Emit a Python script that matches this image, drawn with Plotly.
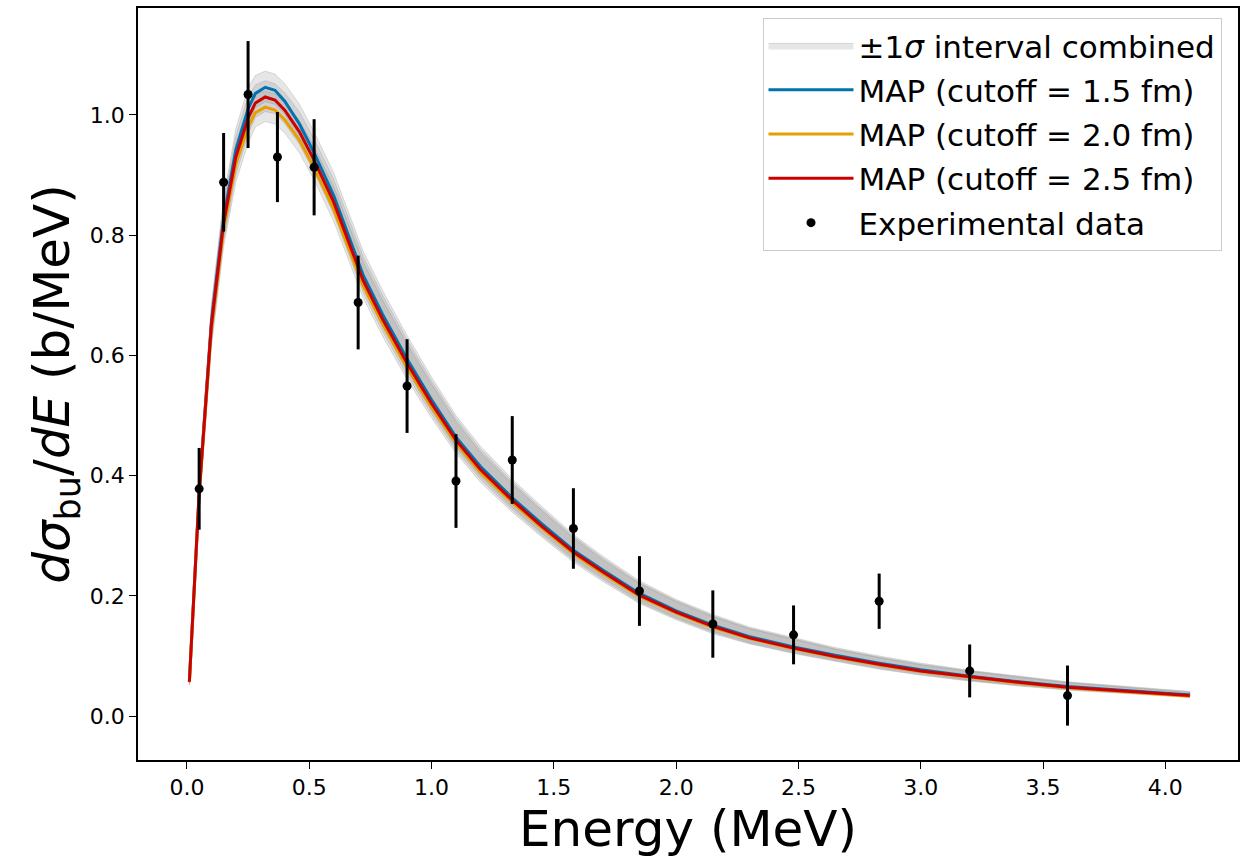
import plotly.graph_objects as go

# ---------------- data ----------------
energy = [0.01, 0.05, 0.10, 0.15, 0.20, 0.25, 0.28, 0.32, 0.36, 0.40, 0.46, 0.52, 0.60, 0.72,
          0.80, 0.90, 1.00, 1.10, 1.20, 1.33, 1.45, 1.58, 1.70, 1.85, 2.00, 2.15, 2.30, 2.48,
          2.65, 2.83, 3.00, 3.20, 3.40, 3.60, 3.85, 4.10]

map_15 = [0.057, 0.372, 0.655, 0.828, 0.942, 1.010, 1.036, 1.046, 1.041, 1.023, 0.985, 0.937,
          0.866, 0.734, 0.668, 0.594, 0.526, 0.464, 0.415, 0.363, 0.320, 0.276, 0.243, 0.204,
          0.175, 0.151, 0.132, 0.115, 0.101, 0.088, 0.077, 0.066, 0.057, 0.049, 0.042, 0.035]

map_20 = [0.056, 0.367, 0.644, 0.811, 0.918, 0.980, 1.004, 1.013, 1.008, 0.992, 0.958, 0.912,
          0.843, 0.716, 0.652, 0.580, 0.514, 0.454, 0.405, 0.355, 0.313, 0.270, 0.237, 0.199,
          0.171, 0.147, 0.129, 0.112, 0.098, 0.085, 0.074, 0.064, 0.055, 0.047, 0.040, 0.033]

map_25 = [0.057, 0.370, 0.650, 0.820, 0.930, 0.995, 1.020, 1.030, 1.025, 1.008, 0.972, 0.925,
          0.855, 0.725, 0.660, 0.587, 0.520, 0.459, 0.410, 0.359, 0.316, 0.273, 0.240, 0.201,
          0.173, 0.149, 0.130, 0.113, 0.099, 0.086, 0.075, 0.065, 0.056, 0.048, 0.041, 0.034]

# +/- 1 sigma half-widths
sigma_up = [0.005, 0.02, 0.03, 0.034, 0.035, 0.035, 0.03, 0.027, 0.027, 0.029, 0.033, 0.035,
            0.038, 0.04, 0.04, 0.039, 0.038, 0.036, 0.034, 0.031, 0.029, 0.026, 0.023, 0.021,
            0.019, 0.018, 0.016, 0.015, 0.013, 0.012, 0.011, 0.010, 0.009, 0.008, 0.007, 0.006]
sigma_down = [0.005, 0.02, 0.03, 0.03, 0.03, 0.027, 0.024, 0.024, 0.023, 0.022, 0.021, 0.02,
              0.02, 0.02, 0.02, 0.02, 0.018, 0.017, 0.016, 0.016, 0.015, 0.014, 0.013, 0.012,
              0.011, 0.010, 0.009, 0.008, 0.007, 0.007, 0.006, 0.006, 0.005, 0.004, 0.003, 0.002]

exp_energy = [0.05, 0.15, 0.25, 0.37, 0.52, 0.70, 0.90, 1.10, 1.33, 1.58, 1.85, 2.15, 2.48,
              2.83, 3.20, 3.60]
exp_value = [0.378, 0.888, 1.034, 0.930, 0.913, 0.688, 0.549, 0.391, 0.426, 0.312, 0.208,
             0.153, 0.135, 0.191, 0.075, 0.034]
exp_error = [0.068, 0.082, 0.089, 0.075, 0.080, 0.078, 0.078, 0.078, 0.073, 0.067, 0.058,
             0.056, 0.049, 0.046, 0.044, 0.050]

x_ticks = [0.0, 0.5, 1.0, 1.5, 2.0, 2.5, 3.0, 3.5, 4.0]
y_ticks = [0.0, 0.2, 0.4, 0.6, 0.8, 1.0]

curves = [
    ("MAP (cutoff = 1.5 fm)", map_15, "#0072B2"),
    ("MAP (cutoff = 2.0 fm)", map_20, "#E69F00"),
    ("MAP (cutoff = 2.5 fm)", map_25, "#CC0000"),
]

# ---------------- figure ----------------
fig = go.Figure()

for i, (_, vals, _) in enumerate(curves):
    upper = [v + u for v, u in zip(vals, sigma_up)]
    lower = [v - d for v, d in zip(vals, sigma_down)]
    fig.add_trace(go.Scatter(
        x=energy + energy[::-1],
        y=upper + lower[::-1],
        fill="toself",
        fillcolor="rgba(128,128,128,0.2)",
        line=dict(color="rgba(128,128,128,0.25)", width=1),
        mode="lines",
        name="±1<i>σ</i> interval combined",
        showlegend=(i == 0),
        legendgroup="band",
        hoverinfo="skip",
    ))

for name, vals, color in curves:
    fig.add_trace(go.Scatter(
        x=energy, y=vals, mode="lines", name=name, legendgroup=name,
        line=dict(color=color, width=3),
    ))

fig.add_trace(go.Scatter(
    x=exp_energy, y=exp_value, mode="markers", name="Experimental data",
    legendgroup="exp",
    marker=dict(color="black", size=9),
    error_y=dict(type="data", array=exp_error, color="black", thickness=3, width=0),
))

axis_common = dict(
    showline=True, linecolor="black", linewidth=1.5, mirror=True,
    ticks="outside", ticklen=7, tickwidth=1.3, tickcolor="black",
    showgrid=False, zeroline=False, automargin=False,
    tickfont=dict(family="DejaVu Sans", size=22, color="black"),
)

fig.update_layout(
    width=1250, height=861,
    margin=dict(l=138, r=12, t=8, b=101),
    plot_bgcolor="white", paper_bgcolor="white",
    font=dict(family="DejaVu Sans", color="black"),
    xaxis=dict(
        range=[-0.200, 4.297],
        tickvals=x_ticks,
        ticktext=[f"{v:.1f}" for v in x_ticks],
        title=dict(text="Energy (MeV)", font=dict(size=50, family="DejaVu Sans"), standoff=0),
        **axis_common,
    ),
    yaxis=dict(
        range=[-0.0732, 1.178],
        tickvals=y_ticks,
        ticktext=[f"{v:.1f}" for v in y_ticks],
        title=dict(text="<i>dσ</i><sub>bu</sub>/<i>dE</i> (b/MeV)",
                   font=dict(size=50, family="DejaVu Sans"), standoff=4),
        **axis_common,
    ),
    legend=dict(
        x=0.985, y=0.987, xanchor="right", yanchor="top",
        bgcolor="rgba(255,255,255,0.85)", bordercolor="#cccccc", borderwidth=1,
        font=dict(size=31, family="DejaVu Sans", color="black"),
        itemwidth=85, tracegroupgap=1, traceorder="grouped",
    ),
    showlegend=True,
)

fig.write_html("out.html")
